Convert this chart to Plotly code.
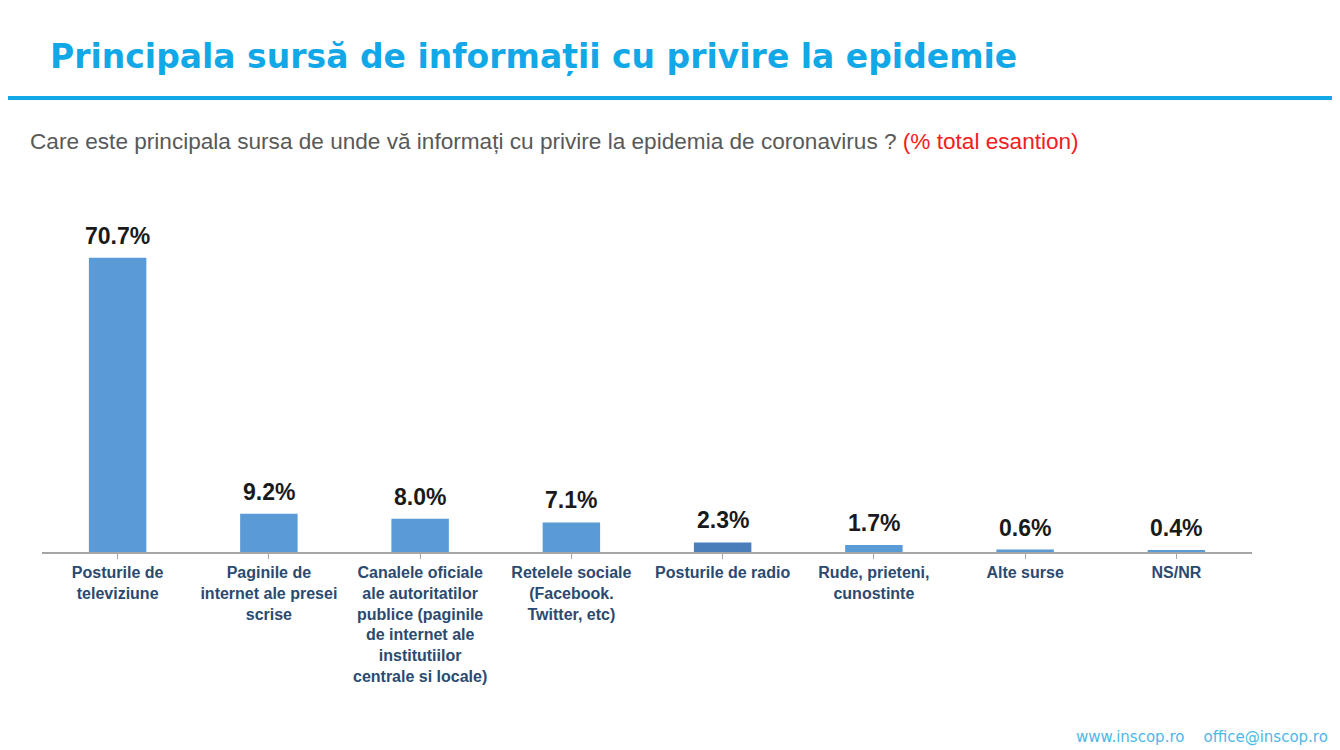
import plotly.graph_objects as go

categories = [
    "Posturile de<br>televiziune",
    "Paginile de<br>internet ale presei<br>scrise",
    "Canalele oficiale<br>ale autoritatilor<br>publice (paginile<br>de internet ale<br>institutiilor<br>centrale si locale)",
    "Retelele sociale<br>(Facebook.<br>Twitter, etc)",
    "Posturile de radio",
    "Rude, prieteni,<br>cunostinte",
    "Alte surse",
    "NS/NR",
]
values = [70.7, 9.2, 8.0, 7.1, 2.3, 1.7, 0.6, 0.4]
value_labels = ["70.7%", "9.2%", "8.0%", "7.1%", "2.3%", "1.7%", "0.6%", "0.4%"]
bar_colors = ["#5B9BD5", "#5B9BD5", "#5B9BD5", "#5B9BD5", "#4A7EBB", "#5B9BD5", "#5B9BD5", "#5B9BD5"]

OFF = 8  # page body margin
W, H = 1340 - OFF, 750 - OFF
PX0, PX1, PY0, PY1 = 42, 1252, 219, 552  # plot area in page pixels
L, R = PX0 - OFF, W - (PX1 - OFF)
T, B = PY0 - OFF, H - (PY1 - OFF)
PW, PH = W - L - R, H - T - B


def px(x):
    return (x - PX0) / PW


def py(y):
    return (PY1 - y) / PH


xs = list(range(len(categories)))

fig = go.Figure(go.Bar(
    x=xs,
    y=values,
    marker=dict(color=bar_colors, line=dict(width=0)),
    hoverinfo="skip",
))

# value labels above bars (data coordinates)
for xi, v, lab in zip(xs, values, value_labels):
    fig.add_annotation(
        x=xi, y=v, xref="x", yref="y", text="<b>" + lab + "</b>",
        showarrow=False, xanchor="center", yanchor="bottom", yshift=7,
        font=dict(family="Liberation Sans, Arial", size=23, color="#1A1A1A"),
    )

fig.update_layout(
    width=W, height=H,
    margin=dict(l=L, r=R, t=T, b=B),
    paper_bgcolor="white", plot_bgcolor="white",
    bargap=0.62,
    showlegend=False,
    font=dict(family="Liberation Sans, Arial"),
)
fig.update_xaxes(
    tickmode="array",
    tickvals=xs,
    ticktext=["<b>" + c + "</b>" for c in categories],
    tickfont=dict(family="Liberation Sans, Arial", size=16, color="#2B4A70"),
    showline=True, linecolor="#A6A6A6", linewidth=1.5,
    ticks="outside", tickson="boundaries", ticklen=5, tickcolor="#A6A6A6",
    showgrid=False, zeroline=False,
    range=[-0.5, len(categories) - 0.5],
)
fig.update_yaxes(range=[0, 80], visible=False, showgrid=False, zeroline=False)

# Title
fig.add_annotation(
    text="<b>Principala sursă de informații cu privire la epidemie</b>",
    xref="paper", yref="paper",
    x=px(48), y=py(56),
    xanchor="left", yanchor="middle", showarrow=False,
    font=dict(family="DejaVu Sans", size=33, color="#12A8E8"),
)
# Line under title
fig.add_shape(
    type="line", xref="paper", yref="paper",
    x0=px(0), x1=px(1340), y0=py(98), y1=py(98),
    line=dict(color="#12A8E8", width=4),
)
# Subtitle
fig.add_annotation(
    text="Care este principala sursa de unde vă informați cu privire la epidemia de coronavirus ? <span style='color:#F02020'>(% total esantion)</span>",
    xref="paper", yref="paper",
    x=px(28), y=py(141),
    xanchor="left", yanchor="middle", showarrow=False,
    font=dict(family="Liberation Sans, Arial", size=22.6, color="#595959"),
)
# Footer
fig.add_annotation(
    text="www.inscop.ro&nbsp;&nbsp;&nbsp;&nbsp;office@inscop.ro",
    xref="paper", yref="paper",
    x=px(1330), y=py(737),
    xanchor="right", yanchor="middle", showarrow=False,
    font=dict(family="DejaVu Sans", size=15, color="#4DB8E8"),
)

fig.write_html("out.html")
